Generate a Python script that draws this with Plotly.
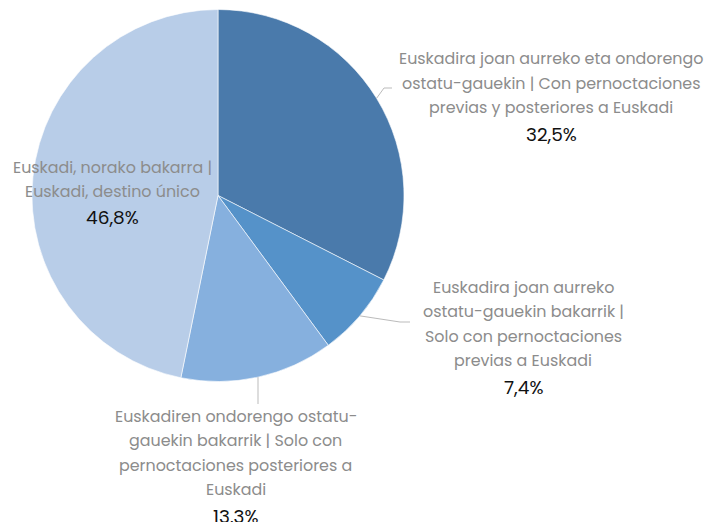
import math
import plotly.graph_objects as go

labels_eu_es = [
    ["Euskadira joan aurreko eta ondorengo", "ostatu-gauekin | Con pernoctaciones", "previas y posteriores a Euskadi"],
    ["Euskadira joan aurreko", "ostatu-gauekin bakarrik |", "Solo con pernoctaciones", "previas a Euskadi"],
    ["Euskadiren ondorengo ostatu-", "gauekin bakarrik | Solo con", "pernoctaciones posteriores a", "Euskadi"],
    ["Euskadi, norako bakarra |", "Euskadi, destino único"],
]
values = [32.5, 7.4, 13.3, 46.8]
pct_labels = ["32,5%", "7,4%", "13,3%", "46,8%"]
colors = ["#4a7aab", "#5592c9", "#86b0de", "#b8cde8"]

W, H = 707, 522
CX, CY, R = 218, 195.5, 186

# label block layout (text centre x, first line y) in pixels
label_pos = [(551, 59), (523, 287), (236, 416), (112, 167)]
LINE_H = 24.5

fig = go.Figure()
fig.add_trace(go.Pie(
    labels=[" ".join(l) for l in labels_eu_es],
    values=values,
    sort=False,
    direction="clockwise",
    rotation=0,
    marker=dict(colors=colors, line=dict(color="white", width=0.6)),
    textinfo="none",
    hoverinfo="label+percent",
    domain=dict(x=[(CX - R) / W, (CX + R) / W], y=[1 - (CY + R) / H, 1 - (CY - R) / H]),
    showlegend=False,
))

def px(x):
    return x / W

def py(y):
    return 1 - y / H

annotations = []
for i, lines in enumerate(labels_eu_es):
    lx, ly = label_pos[i]
    for j, t in enumerate(lines):
        annotations.append(dict(x=px(lx), y=py(ly + j * LINE_H), xref="paper", yref="paper",
                                text=t, showarrow=False, xanchor="center", yanchor="middle",
                                font=dict(size=15.9, color="#8c8c8c")))
    annotations.append(dict(x=px(lx), y=py(ly + len(lines) * LINE_H + 2), xref="paper", yref="paper",
                            text=pct_labels[i], showarrow=False, xanchor="center", yanchor="middle",
                            font=dict(size=18.5, color="#111111")))

# leader lines from slice mid-angle on the edge
total = sum(values)
cum = 0
shapes = []
mids = []
for v in values:
    mids.append((cum + v / 2) / total * 2 * math.pi)
    cum += v

leader = {
    0: [(384, 88), (392, 88)],
    1: [(400, 322), (410, 322)],
    2: [(None, 404)],
}
for i, pts in leader.items():
    a = mids[i]
    ex, ey = CX + R * math.sin(a), CY - R * math.cos(a)
    path = [(ex, ey)]
    for (x, y) in pts:
        path.append((ex if x is None else x, y))
    d = "M " + " L ".join(f"{px(x)},{py(y)}" for x, y in path)
    shapes.append(dict(type="path", path=d, xref="paper", yref="paper",
                       line=dict(color="#bbbbbb", width=1)))

fig.update_layout(
    width=W, height=H,
    margin=dict(l=0, r=0, t=0, b=0),
    paper_bgcolor="white",
    plot_bgcolor="white",
    font=dict(family="Poppins, 'Open Sans', sans-serif"),
    annotations=annotations,
    shapes=shapes,
)
fig.write_html("out.html", config={"displayModeBar": False},
               post_script="document.body.style.margin='0';document.body.style.overflow='hidden';")
